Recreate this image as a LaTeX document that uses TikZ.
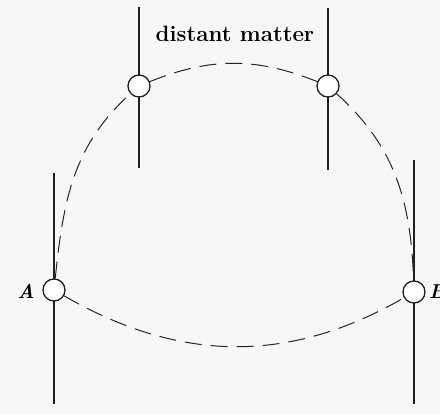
\documentclass[tikz,border=0pt]{standalone}
\usetikzlibrary{calc}
\begin{document}
\begin{tikzpicture}[x=1pt,y=-1pt,
  worldline/.style={line width=2.3pt,draw=black!88},
  event/.style={circle,draw=black!88,line width=1.3pt,fill=white,minimum size=22pt,inner sep=0pt},
  signal/.style={draw=black!85,line width=1pt,dash pattern=on 17pt off 9pt},
  lbl/.style={font=\fontsize{20}{24}\selectfont\bfseries\itshape,inner sep=0pt}]
\useasboundingbox[fill=black!3] (0,0) rectangle (440,414);
% worldline end points
\coordinate (a1) at (54,173);  \coordinate (a2) at (54,404);
\coordinate (l1) at (139,7);   \coordinate (l2) at (139,168);
\coordinate (r1) at (328,8);   \coordinate (r2) at (328,170);
\coordinate (b1) at (414,160); \coordinate (b2) at (414,404);
\draw[worldline] (a1) -- (a2);
\draw[worldline] (l1) -- (l2);
\draw[worldline] (r1) -- (r2);
\draw[worldline] (b1) -- (b2);
% events
\node[event] (A) at (54,290) {};
\node[event] (L) at (139,86) {};
\node[event] (R) at (328,86) {};
\node[event] (B) at (414,292) {};
% signals
\draw[signal] (A) to[out=84,in=222] (L);
\draw[signal] (L) to[out=22,in=158] (R);
\draw[signal] (R) to[out=-42,in=92] (B);
\draw[signal] (A) to[out=-30,in=210] (B);
% labels
\node[lbl,anchor=east] (la) at (35,291) {A};
\node[lbl,anchor=west] (lb) at (429,292) {B};
\node[font=\fontsize{22.3}{26}\selectfont\bfseries] (dm) at (235,34) {distant matter};
\end{tikzpicture}
\end{document}
